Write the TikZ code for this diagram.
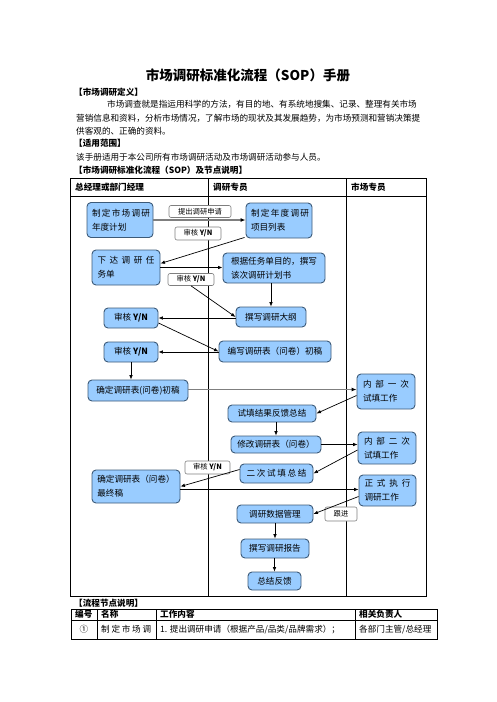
\documentclass[tikz,border=0pt]{standalone}
\usepackage{fontspec}
\setmainfont{Noto Sans CJK SC}
\usetikzlibrary{arrows.meta}
\definecolor{nodeblue}{HTML}{99CCFF}
\definecolor{nodeedge}{HTML}{3C5A78}
\definecolor{arrgray}{HTML}{7F7F7F}
\newcommand\spreadbox[2]{\makebox[#1][s]{#2}}
\tikzset{
  box/.style={draw=nodeedge, fill=nodeblue, rounded corners=4pt, line width=0.9pt,
    font=\fontsize{8.6}{14}\selectfont, inner sep=0pt, align=left},
  lab/.style={draw=arrgray, fill=white, rounded corners=2pt, line width=0.6pt,
    font=\fontsize{7.3}{9}\selectfont, inner sep=0pt},
  arr/.style={-{Latex[length=4.5pt,width=3.6pt]}, line width=0.7pt},
  garr/.style={-{Latex[length=5pt,width=4pt,color=black]}, line width=1.4pt, draw=arrgray},
  txt/.style={anchor=west, inner sep=0pt, font=\fontsize{8.6}{10}\selectfont},
  head/.style={anchor=west, inner sep=0pt, font=\bfseries\fontsize{8.6}{10}\selectfont},
  tline/.style={line width=0.8pt}
}
\begin{document}
\begin{tikzpicture}[x=1pt,y=-1pt]
\useasboundingbox (0,0) rectangle (496,702);
% header texts
\node[inner sep=0pt, font=\bfseries\fontsize{13.5}{15}\selectfont] (title) at (248,75) {市场调研标准化流程（SOP）手册};
\node[head] (h1) at (74,92) {【市场调研定义】};
\node[txt] (p1) at (107,104.5) {市场调查就是指运用科学的方法，有目的地、有系统地搜集、记录、整理有关市场};
\node[txt] (p2) at (76,118) {营销信息和资料，分析市场情况，了解市场的现状及其发展趋势，为市场预测和营销决策提};
\node[txt] (p3) at (76,131.5) {供客观的、正确的资料。};
\node[head] (h2) at (74,143.5) {【适用范围】};
\node[txt] (p4) at (76,157) {该手册适用于本公司所有市场调研活动及市场调研活动参与人员。};
\node[head] (h3) at (74,170.5) {【市场调研标准化流程（SOP）及节点说明】};
% main table
\draw[tline] (70,178) rectangle (426,596);
\draw[tline] (70,196) -- (426,196);
\draw[tline] (208,178) -- (208,596);
\draw[tline] (346,178) -- (346,596);
\node[head] (c1) at (75,187) {总经理或部门经理};
\node[head] (c2) at (213,187) {调研专员};
\node[head] (c3) at (351,187) {市场专员};
% nodes
\node[box, minimum width=66pt, minimum height=35pt] (n1) at (120,220) {\spreadbox{56pt}{制 定 市 场 调 研}\\年度计划};
\node[box, minimum width=66pt, minimum height=35pt] (n2) at (279,220.5) {\spreadbox{56pt}{制 定 年 度 调 研}\\项目列表};
\node[box, minimum width=68pt, minimum height=35pt] (n3) at (126,267.5) {\spreadbox{57pt}{下 达 调 研 任}\\务单};
\node[box, minimum width=102pt, minimum height=30pt] (n4) at (274,268) {根据任务单目的，撰写\\该次调研计划书};
\node[box, minimum width=70pt, minimum height=20pt] (n5) at (271,317) {撰写调研大纲};
\node[box, minimum width=54pt, minimum height=20pt] (n6) at (131,318) {审核 \textbf{Y/N}};
\node[box, minimum width=112pt, minimum height=21pt] (n7) at (275,351.5) {编写调研表（问卷）初稿};
\node[box, minimum width=54pt, minimum height=20pt] (n8) at (131,352) {审核 \textbf{Y/N}};
\node[box, minimum width=100pt, minimum height=21pt] (n9) at (138,390.5) {确定调研表(问卷)初稿};
\node[box, minimum width=58pt, minimum height=35pt] (n10) at (386,391.5) {\spreadbox{46pt}{内 部 一 次}\\试填工作};
\node[box, minimum width=88pt, minimum height=17pt] (n11) at (272,413.5) {试填结果反馈总结};
\node[box, minimum width=90pt, minimum height=17pt] (n12) at (276,444.5) {修改调研表（问卷）};
\node[box, minimum width=58pt, minimum height=32pt] (n13) at (387,448) {\spreadbox{46pt}{内 部 二 次}\\试填工作};
\node[box, minimum width=73pt, minimum height=19pt] (n14) at (276.5,473.5) {\spreadbox{60pt}{二 次 试 填 总 结}};
\node[box, minimum width=88pt, minimum height=33pt] (n15) at (136,486.5) {确定调研表（问卷）\\最终稿};
\node[box, minimum width=57pt, minimum height=31pt] (n16) at (387.5,490.5) {\spreadbox{46pt}{正 式 执 行}\\调研工作};
\node[box, minimum width=76pt, minimum height=18pt] (n17) at (275,514) {调研数据管理};
\node[box, minimum width=68pt, minimum height=19pt] (n18) at (275,548.5) {撰写调研报告};
\node[box, minimum width=53pt, minimum height=18pt] (n19) at (274.5,581) {总结反馈};
% labels
\node[lab, minimum width=62pt, minimum height=12pt] (l1) at (200,211.5) {提出调研申请};
\node[lab, minimum width=46pt, minimum height=13pt] (l2) at (198,233.5) {审核 \textbf{Y/N}};
\node[lab, minimum width=46pt, minimum height=12pt] (l3) at (191,279.5) {审核 \textbf{Y/N}};
\node[lab, minimum width=45pt, minimum height=13pt] (l4) at (207.5,467.5) {审核 \textbf{Y/N}};
\node[lab, minimum width=32pt, minimum height=14pt] (l5) at (341,514) {跟进};
% connectors
\draw[garr] (n1.east) -- (n1.east -| n2.west);
\draw[arr] ([xshift=-1pt,yshift=1pt]n2.south west) -- ([yshift=4pt]n3.east);
\draw[arr, line width=1pt] (n3.east) -- (n3.east -| n4.west);
\draw[arr] (l3.south) -- (n5.west);
\draw[arr] (n5.north |- n4.south) -- (n5.north);
\draw[arr] (n5.west |- n6.east) -- (n6.east);
\draw[arr] ([yshift=-5pt]n6.east) -- (n7.west);
\draw[arr] (n7.west |- n8.east) -- (n8.east);
\draw[arr] (n8.south) -- (n8.south |- n9.north);
\draw[garr] ([yshift=1pt]n9.east) -- ([yshift=1pt]n9.east -| n10.west);
\draw[arr] ([yshift=-4pt]n10.west) -- (n11.east);
\draw[arr] (n12.north |- n11.south) -- (n12.north);
\draw[arr] (n12.east) -- (n12.east -| n13.west);
\draw[arr] ([yshift=-2pt]n13.west) -- (n14.east);
\draw[arr] ([yshift=4pt]n14.west) -- (n15.east);
\draw[arr] ([yshift=-3pt]n15.east) -- ([yshift=-3pt]n15.east -| n16.west);
\draw[arr] ([yshift=-6pt]n16.west) -- (n17.east);
\draw[arr] (n18.north |- n17.south) -- (n18.north);
\draw[arr] (n19.north |- n18.south) -- (n19.north);
% second table
\node[head] (h4) at (74,603) {【流程节点说明】};
\draw[tline] (71,609) rectangle (437,639);
\draw[tline] (71,620) -- (437,620);
\draw[tline] (97,609) -- (97,639);
\draw[tline] (156,609) -- (156,639);
\draw[tline] (355,609) -- (355,639);
\node[head] (t1) at (75,614.5) {编号};
\node[head] (t2) at (101,614.5) {名称};
\node[head] (t3) at (160,614.5) {工作内容};
\node[head] (t4) at (359,614.5) {相关负责人};
\node[inner sep=0pt, font=\fontsize{8.6}{10}\selectfont] (r1) at (84,629.5) {①};
\node[txt] (r2) at (101,629.5) {\spreadbox{50pt}{制 定 市 场 调}};
\node[txt] (r3) at (160,629.5) {1. 提出调研申请（根据产品/品类/品牌需求）；};
\node[txt] (r4) at (359,629.5) {各部门主管/总经理};
\end{tikzpicture}
\end{document}
